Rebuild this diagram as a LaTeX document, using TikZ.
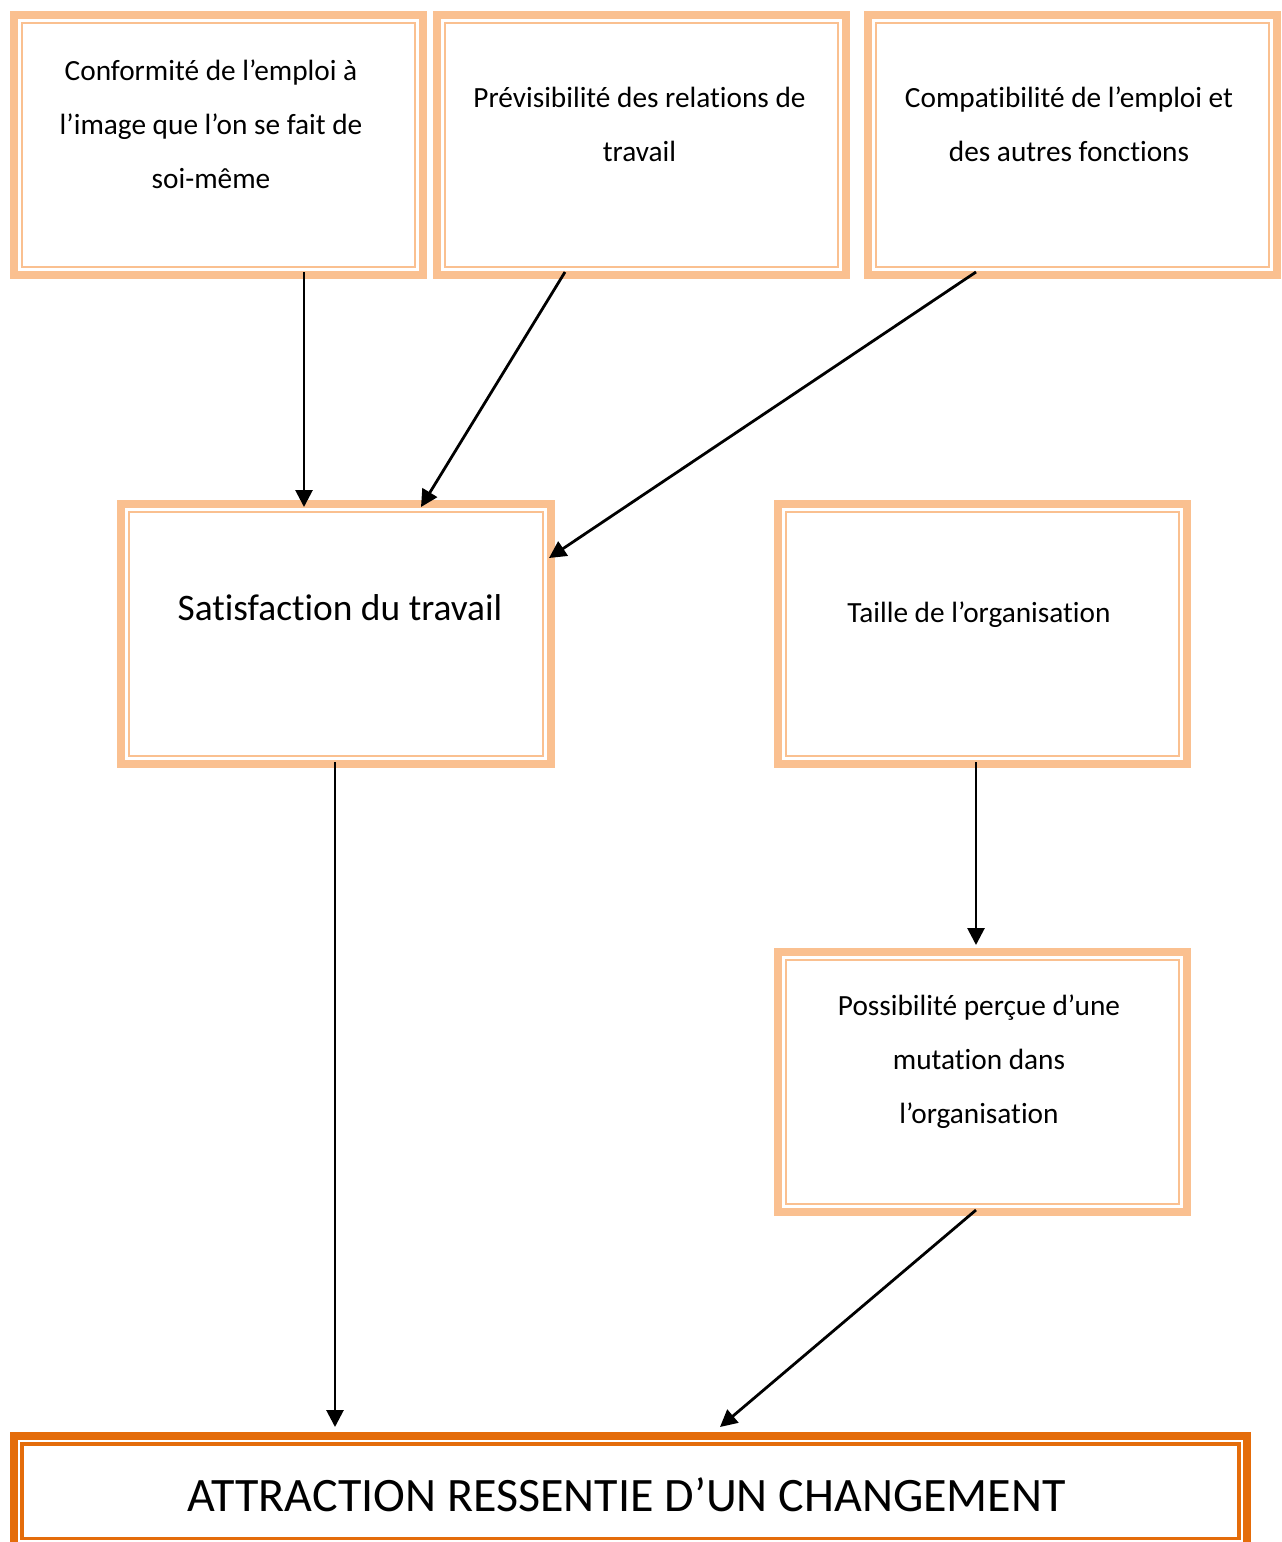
\documentclass[tikz,border=0pt]{standalone}
\usepackage{fontspec}
\setmainfont[RawFeature={-liga;-clig;-dlig;-calt;-rlig}]{Carlito}
\usetikzlibrary{arrows.meta}
\definecolor{lite}{HTML}{FAC090}
\definecolor{dark}{HTML}{E46C0A}
\tikzset{
  lbox/.style={rectangle, draw=lite, line width=8pt, outer sep=0pt, inner sep=0pt},
  dbox/.style={rectangle, draw=dark, line width=8pt, outer sep=0pt, inner sep=0pt},
  linner/.style={draw=lite, line width=2.5pt},
  dinner/.style={draw=dark, line width=3.2pt},
  txt/.style={anchor=base, inner sep=0pt, font=\fontsize{29.3pt}{54pt}\selectfont},
  arr/.style={line width=2.8pt, -{Triangle[length=17pt,width=17pt]}}
}
\newcommand{\ctext}[2]{\parbox[t]{#1}{\centering #2}}
\newcommand{\tiq}{t\kern0pt i}
\begin{document}
\begin{tikzpicture}[x=1pt,y=-1pt]
\useasboundingbox (0,0) rectangle (1282,1542);
\clip (0,0) rectangle (1282,1542);
% boxes
\node[lbox, minimum width=409pt, minimum height=260pt] (b1) at (218.5,145) {};
\node[lbox, minimum width=409pt, minimum height=260pt] (b2) at (641.5,145) {};
\node[lbox, minimum width=409pt, minimum height=260pt] (b3) at (1072.5,145) {};
\node[lbox, minimum width=430pt, minimum height=260pt] (sat) at (336,634) {};
\node[lbox, minimum width=409pt, minimum height=260pt] (tai) at (982.5,634) {};
\node[lbox, minimum width=409pt, minimum height=260pt] (pos) at (982.5,1082) {};
\node[dbox, minimum width=1233pt, minimum height=110.5pt] (att) at (630.5,1491.25) {};
\foreach \n in {b1,b2,b3,sat,tai,pos}
  \draw[linner] ([shift={(8pt,-8pt)}]\n.north west) rectangle ([shift={(-8pt,8pt)}]\n.south east);
\draw[dinner] ([shift={(8pt,-8pt)}]att.north west) rectangle ([shift={(-8pt,8pt)}]att.south east);
% texts
\node[txt] (t1) at (211,80) {\ctext{380pt}{Conformité de l’emploi à\\l’image que l’on se fait de\\soi-même}};
\node[txt] (t2) at (639.5,107) {\ctext{380pt}{Prévisibilité des rela\tiq ons de\\travail}};
\node[txt] (t3) at (1069,107) {\ctext{380pt}{Compatibilité de l’emploi et\\des autres fonc\tiq ons}};
\node[txt, font=\fontsize{37.4pt}{45pt}\selectfont] (t4) at (340,620) {Satisfac\tiq on du travail};
\node[txt] (t5) at (979,622) {Taille de l’organisa\tiq on};
\node[txt] (t6) at (979,1015) {\ctext{380pt}{Possibilité perçue d’une\\muta\tiq on dans\\l’organisa\tiq on}};
\node[txt, font=\fontsize{48pt}{58pt}\selectfont] (t7) at (626.5,1511) {ATTRACTION RESSENTIE D’UN CHANGEMENT};
% arrows
\draw[arr] ([shift={(85.5pt,3pt)}]b1.south) -- ([shift={(-32pt,-3pt)}]sat.north);
\draw[arr] ([shift={(-76.5pt,3pt)}]b2.south) -- ([shift={(85pt,-3pt)}]sat.north);
\draw[arr] ([shift={(-96.5pt,3pt)}]b3.south) -- ([shift={(-2pt,76pt)}]sat.east);
\draw[arr] ([shift={(-1pt,2pt)}]sat.south) -- ([shift={(-295.5pt,9pt)}]att.north);
\draw[arr] ([shift={(-6.5pt,2pt)}]tai.south) -- ([shift={(-6.5pt,7pt)}]pos.north);
\draw[arr] ([shift={(-6.5pt,2pt)}]pos.south) -- ([shift={(89.5pt,9pt)}]att.north);
\end{tikzpicture}
\end{document}
